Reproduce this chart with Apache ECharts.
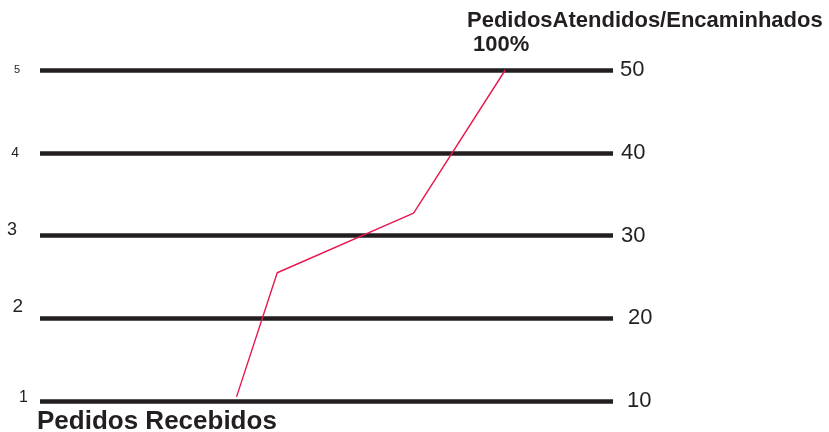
<!DOCTYPE html>
<html>
<head>
<meta charset="utf-8">
<script src="https://cdn.jsdelivr.net/npm/echarts@6/dist/echarts.min.js"></script>
<style>html,body{margin:0;padding:0;background:#fff}#c{width:829px;height:432px}</style>
</head>
<body>
<div id="c"></div>
<script>
// ---- data ----
const levels = [10, 20, 30, 40, 50];
const leftTickLabels = ['1', '2', '3', '4', '5'];
const rightTickLabels = ['10', '20', '30', '40', '50'];
const lineX = [34.3, 41.4, 65.2, 81.2];
const lineY = [10.5, 25.5, 32.7, 50];
const titleText = 'PedidosAtendidos/Encaminhados';
const subText = '100%';
const xName = 'Pedidos Recebidos';

const FONT = '"Liberation Sans", Arial, Helvetica, sans-serif';
const INK = '#231f20';

// per-label styles (sizes / offsets only)
const leftRich = {
  l1: {fontSize: 16, padding: [0, 0, 6, 0]},
  l2: {fontSize: 19, padding: [0, 5, 22, 0]},
  l3: {fontSize: 18, padding: [0, 11, 10, 0]},
  l4: {fontSize: 14, padding: [0, 9, 0, 0]},
  l5: {fontSize: 11, padding: [0, 8, 0, 0]}
};
Object.values(leftRich).forEach(s => { s.color = INK; s.fontFamily = FONT; });
const rightRich = {
  r10: {padding: [0, 0, 0, 7]},
  r20: {padding: [0, 0, 0, 8]},
  r30: {padding: [0, 0, 0, 1]},
  r40: {padding: [0, 0, 0, 1]},
  r50: {padding: [0, 0, 0, 0]}
};
Object.values(rightRich).forEach(s => { s.color = INK; s.fontFamily = FONT; s.fontSize = 22; });

const chart = echarts.init(document.getElementById('c'), null, {renderer: 'canvas'});
chart.setOption({
  animation: false,
  backgroundColor: '#fff',
  title: [
    {text: titleText, left: 467, top: 10, padding: 0,
     textStyle: {fontSize: 22, fontWeight: 'bold', color: INK, fontFamily: FONT}},
    {text: subText, left: 473, top: 34, padding: 0,
     textStyle: {fontSize: 22, fontWeight: 'bold', color: INK, fontFamily: FONT}},
    {text: xName, left: 37, top: 409, padding: 0,
     textStyle: {fontSize: 26, fontWeight: 'bold', color: INK, fontFamily: FONT}}
  ],
  grid: {left: 40, right: 216, top: 70, bottom: 31, containLabel: false},
  xAxis: {type: 'value', min: 0, max: 100, show: false},
  yAxis: [
    {type: 'value', position: 'right', min: 10, max: 50, interval: 10,
     axisLine: {show: false}, axisTick: {show: false},
     splitLine: {show: true, lineStyle: {color: INK, width: 4.5}},
     axisLabel: {margin: 7, align: 'left',
       formatter: v => '{r' + v + '|' + rightTickLabels[levels.indexOf(v)] + '}',
       rich: rightRich}},
    {type: 'value', position: 'left', min: 10, max: 50, interval: 10,
     axisLine: {show: false}, axisTick: {show: false}, splitLine: {show: false},
     axisLabel: {margin: 12,
       formatter: v => '{l' + (levels.indexOf(v) + 1) + '|' + leftTickLabels[levels.indexOf(v)] + '}',
       rich: leftRich}}
  ],
  series: [{
    type: 'line',
    data: lineX.map((x, i) => [x, lineY[i]]),
    symbol: 'none',
    lineStyle: {color: '#e8184f', width: 1.4},
    z: 5
  }]
});
</script>
</body>
</html>
